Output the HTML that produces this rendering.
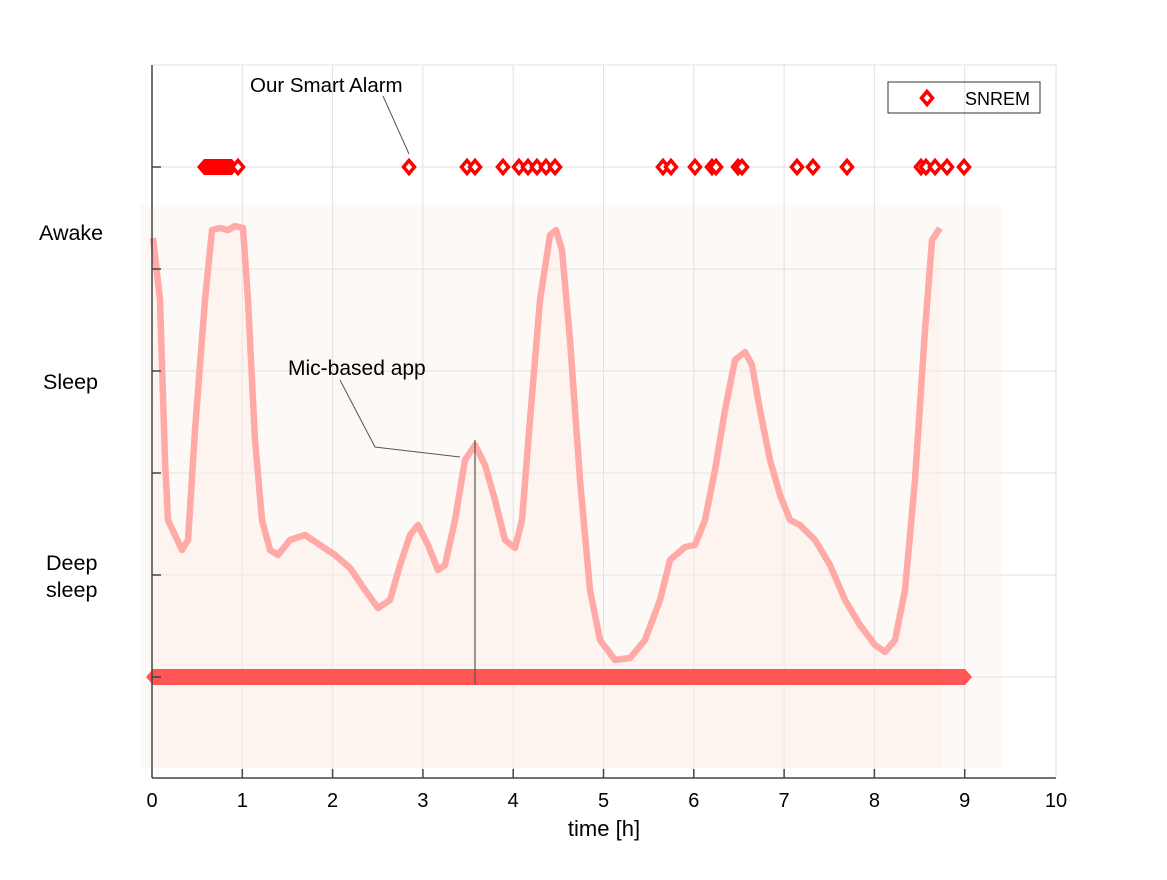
<!DOCTYPE html>
<html><head><style>body{margin:0;background:#fff}svg text{font-family:"Liberation Sans",sans-serif}</style></head><body>
<svg width="1167" height="875" xmlns="http://www.w3.org/2000/svg">
<defs><path id="d" d="M0,-6.5 L5.5,0 L0,6.5 L-5.5,0 Z" fill="#fff" stroke="#ff0000" stroke-width="3.5"/></defs>
<rect x="152" y="65" width="904" height="713" fill="#fff"/>
<rect x="140" y="205" width="862" height="563" fill="#fdf9f7"/>
<g stroke="#e2e2e2" stroke-width="1">
<line x1="242.3" y1="65" x2="242.3" y2="778"/><line x1="332.6" y1="65" x2="332.6" y2="778"/><line x1="422.9" y1="65" x2="422.9" y2="778"/><line x1="513.2" y1="65" x2="513.2" y2="778"/><line x1="603.5" y1="65" x2="603.5" y2="778"/><line x1="693.8" y1="65" x2="693.8" y2="778"/><line x1="784.1" y1="65" x2="784.1" y2="778"/><line x1="874.4" y1="65" x2="874.4" y2="778"/><line x1="964.7" y1="65" x2="964.7" y2="778"/><line x1="1056" y1="65" x2="1056" y2="778"/>
<line x1="152" y1="65" x2="1056" y2="65"/>
<line x1="152" y1="167" x2="1056" y2="167"/><line x1="152" y1="269" x2="1056" y2="269"/><line x1="152" y1="371" x2="1056" y2="371"/><line x1="152" y1="473" x2="1056" y2="473"/><line x1="152" y1="575" x2="1056" y2="575"/><line x1="152" y1="677" x2="1056" y2="677"/>
</g>
<polygon fill="#fdeee6" opacity="0.4" points="153,768 153,238 160,300 165,460 168,520 175,535 182,550 188,540 195,430 205,300 212,230 220,228 228,230 235,226 243,228 248,300 255,440 262,520 270,550 278,555 290,540 305,535 320,545 335,555 350,568 365,590 378,608 390,600 400,565 410,535 418,525 428,545 438,570 445,565 455,520 465,460 475,445 485,465 495,500 505,540 515,548 522,520 530,420 540,300 550,235 556,230 562,250 570,340 580,480 590,590 600,640 615,660 630,658 645,640 660,600 670,560 685,547 695,545 705,520 715,470 725,410 735,360 745,352 752,365 760,410 770,460 780,495 790,520 800,525 815,540 830,565 845,600 860,625 875,645 885,652 895,640 905,590 915,480 925,330 932,240 940,228 942,768"/>
<polyline fill="none" stroke="#ffaaa6" stroke-width="6.5" stroke-linejoin="round" points="153,238 160,300 165,460 168,520 175,535 182,550 188,540 195,430 205,300 212,230 220,228 228,230 235,226 243,228 248,300 255,440 262,520 270,550 278,555 290,540 305,535 320,545 335,555 350,568 365,590 378,608 390,600 400,565 410,535 418,525 428,545 438,570 445,565 455,520 465,460 475,445 485,465 495,500 505,540 515,548 522,520 530,420 540,300 550,235 556,230 562,250 570,340 580,480 590,590 600,640 615,660 630,658 645,640 660,600 670,560 685,547 695,545 705,520 715,470 725,410 735,360 745,352 752,365 760,410 770,460 780,495 790,520 800,525 815,540 830,565 845,600 860,625 875,645 885,652 895,640 905,590 915,480 925,330 932,240 940,228"/>
<polygon fill="#ff5555" points="146,677 153,669 965,669 972,677 965,685 153,685"/>
<line x1="475" y1="440" x2="475" y2="685" stroke="#555" stroke-width="2" opacity="0.6"/>
<g fill="none" stroke="#444" stroke-width="1.5">
<line x1="152" y1="65" x2="152" y2="778"/><line x1="152" y1="778" x2="1056" y2="778"/>
<line x1="152" y1="167" x2="161" y2="167"/><line x1="152" y1="269" x2="161" y2="269"/><line x1="152" y1="371" x2="161" y2="371"/><line x1="152" y1="473" x2="161" y2="473"/><line x1="152" y1="575" x2="161" y2="575"/><line x1="152" y1="677" x2="161" y2="677"/>
<line x1="242.3" y1="778" x2="242.3" y2="769"/><line x1="332.6" y1="778" x2="332.6" y2="769"/><line x1="422.9" y1="778" x2="422.9" y2="769"/><line x1="513.2" y1="778" x2="513.2" y2="769"/><line x1="603.5" y1="778" x2="603.5" y2="769"/><line x1="693.8" y1="778" x2="693.8" y2="769"/><line x1="784.1" y1="778" x2="784.1" y2="769"/><line x1="874.4" y1="778" x2="874.4" y2="769"/><line x1="964.7" y1="778" x2="964.7" y2="769"/>
</g>
<polygon fill="#ff0000" points="197,167 204,159 232,159 239,167 232,175 204,175"/>
<use href="#d" x="238" y="167"/><use href="#d" x="409" y="167"/><use href="#d" x="467" y="167"/><use href="#d" x="475" y="167"/><use href="#d" x="503" y="167"/><use href="#d" x="519" y="167"/><use href="#d" x="528" y="167"/><use href="#d" x="537" y="167"/><use href="#d" x="546" y="167"/><use href="#d" x="555" y="167"/><use href="#d" x="663" y="167"/><use href="#d" x="671" y="167"/><use href="#d" x="695" y="167"/><use href="#d" x="712" y="167"/><use href="#d" x="716" y="167"/><use href="#d" x="738" y="167"/><use href="#d" x="742" y="167"/><use href="#d" x="797" y="167"/><use href="#d" x="813" y="167"/><use href="#d" x="847" y="167"/><use href="#d" x="921" y="167"/><use href="#d" x="926" y="167"/><use href="#d" x="935" y="167"/><use href="#d" x="947" y="167"/><use href="#d" x="964" y="167"/><use href="#d" x="927" y="98"/>
<rect x="888" y="82" width="152" height="31" fill="none" stroke="#333" stroke-width="1"/>
<text x="965" y="105" font-size="18" fill="#000">SNREM</text>
<line x1="383" y1="96" x2="409" y2="154" stroke="#555" stroke-width="1"/>
<text x="250" y="92" font-size="20.5" fill="#000">Our Smart Alarm</text>
<polyline points="340,380 375,447 460,457" fill="none" stroke="#555" stroke-width="1"/>
<text x="288" y="375" font-size="21" fill="#000">Mic-based app</text>
<g font-size="21.5" fill="#000">
<text x="39" y="240">Awake</text>
<text x="43" y="389">Sleep</text>
<text x="46" y="570">Deep</text>
<text x="46" y="597">sleep</text>
</g>
<g font-size="20" fill="#000" text-anchor="middle">
<text x="152" y="807">0</text><text x="242.3" y="807">1</text><text x="332.6" y="807">2</text><text x="422.9" y="807">3</text><text x="513.2" y="807">4</text><text x="603.5" y="807">5</text><text x="693.8" y="807">6</text><text x="784.1" y="807">7</text><text x="874.4" y="807">8</text><text x="964.7" y="807">9</text><text x="1056" y="807">10</text>
<text x="604" y="836" font-size="22">time [h]</text>
</g>
</svg>
</body></html>
